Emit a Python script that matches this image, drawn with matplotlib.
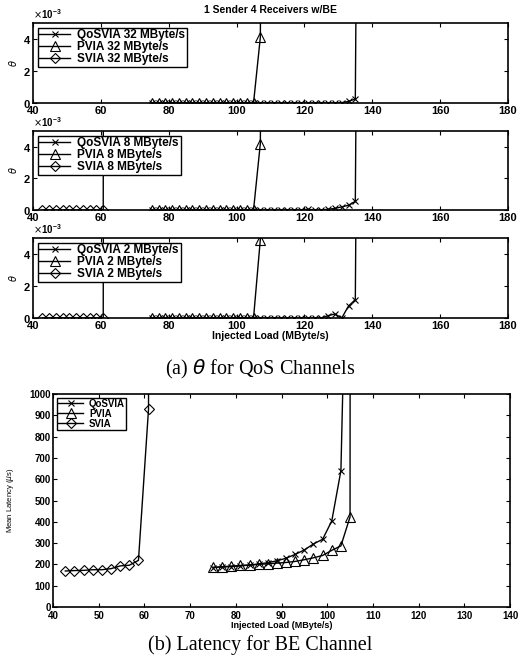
import matplotlib
matplotlib.use("Agg")
import matplotlib.pyplot as plt
from matplotlib.ticker import ScalarFormatter

plt.rcParams['font.family'] = ['Liberation Sans', 'DejaVu Sans']

# ---- theta data (values in units of 1e-3 read off the picture, then scaled) ----
# off-chart points (saturated) are given a large value so the line leaves the plot
qos_load = [75, 77, 79, 81, 83, 85, 87, 89, 91, 93, 95, 97, 99, 101, 103, 105,
            107, 109, 111, 113, 115, 117, 119, 121, 123, 125, 127, 129, 131, 133, 135, 137]
qos_32 = [0, 0, 0, 0, 0, 0, 0, 0, 0, 0, 0, 0, 0, 0, 0, 0,
          0, 0, 0, 0, 0, 0, 0, 0, 0, 0, 0, 0, 0.02, 0.1, 0.25, 60]
qos_8 = [0, 0, 0, 0, 0, 0, 0, 0, 0, 0, 0, 0, 0, 0, 0, 0,
         0, 0, 0, 0, 0, 0, 0, 0.05, 0, 0, 0.05, 0.1, 0.2, 0.3, 0.55, 60]
qos_2 = [0, 0, 0, 0, 0, 0, 0, 0, 0, 0, 0, 0, 0, 0, 0, 0,
         0, 0, 0, 0, 0, 0, 0, 0, 0, 0, 0.15, 0.25, 0.0, 0.75, 1.15, 60]

pvia_load = [75, 77, 79, 81, 83, 85, 87, 89, 91, 93, 95, 97, 99, 101, 103, 105, 107, 109]
pvia_32 = [0, 0, 0, 0, 0, 0, 0, 0, 0, 0, 0, 0, 0, 0, 0, 0, 4.1, 60]
pvia_8 = [0, 0, 0, 0, 0, 0, 0, 0, 0, 0, 0, 0, 0, 0, 0, 0, 4.2, 60]
pvia_2 = [0, 0, 0, 0, 0, 0, 0, 0, 0, 0, 0, 0, 0, 0, 0, 0, 4.9, 60]

svia_load = [42.7, 44.7, 46.7, 48.7, 50.7, 52.7, 54.7, 56.7, 58.7, 60.7, 61.0]
svia_32 = []
svia_8 = [0, 0, 0, 0, 0, 0, 0, 0, 0, 0, 60]
svia_2 = [0, 0, 0, 0, 0, 0, 0, 0, 0, 0, 60]

rates = ['32', '8', '2']
theta_qos = [qos_32, qos_8, qos_2]
theta_pvia = [pvia_32, pvia_8, pvia_2]
theta_svia = [svia_32, svia_8, svia_2]

# ---- latency data (us) ----
lat_qos_load = [75, 77, 79, 81, 83, 85, 87, 89, 91, 93, 95, 97, 99, 101, 103, 105]
lat_qos = [185, 188, 190, 193, 197, 202, 208, 217, 229, 247, 268, 296, 318, 404, 640, 2500]
lat_pvia_load = [75, 77, 79, 81, 83, 85, 87, 89, 91, 93, 95, 97, 99, 101, 103, 105, 105.1]
lat_pvia = [186, 189, 192, 195, 197, 200, 203, 206, 209, 214, 222, 231, 242, 266, 287, 423, 5000]
lat_svia_load = [42.7, 44.7, 46.7, 48.7, 50.7, 52.7, 54.7, 56.7, 58.7, 60.9, 61.3]
lat_svia = [169, 171, 172, 175, 175, 180, 193, 196, 219, 928, 5000]

W, H = 520, 664
fig = plt.figure(figsize=(W / 100, H / 100), dpi=100)


def box(l, t, r, b):
    return [l / W, 1 - b / H, (r - l) / W, (b - t) / H]


def matlab_style(ax, size):
    ax.tick_params(direction='in', top=True, right=True, length=3, width=0.8,
                   labelsize=size, pad=1.5)
    for lab in ax.get_xticklabels() + ax.get_yticklabels():
        lab.set_fontweight('bold')
    for s in ax.spines.values():
        s.set_linewidth(1.2)


def boxed_legend(ax, size, pad, spacing):
    leg = ax.legend(loc='upper left', prop={'weight': 'bold', 'size': size},
                    frameon=True, fancybox=False, borderpad=pad, labelspacing=spacing,
                    handlelength=2.6, handletextpad=0.6, borderaxespad=0.4)
    leg.get_frame().set_edgecolor('black')
    leg.get_frame().set_linewidth(1.0)
    leg.get_frame().set_alpha(1)


mk = dict(color='black', lw=1.0, fillstyle='none', mew=0.8)
panels = [(23, 103), (131, 210), (238, 318)]
for i, (t, b) in enumerate(panels):
    ax = fig.add_axes(box(33, t, 508, b))
    ax.plot(qos_load, [v * 1e-3 for v in theta_qos[i]], marker='x', ms=5,
            label='QoSVIA %s MByte/s' % rates[i], **mk)
    ax.plot(pvia_load, [v * 1e-3 for v in theta_pvia[i]], marker='^', ms=7,
            label='PVIA %s MByte/s' % rates[i], **mk)
    ax.plot(svia_load[:len(theta_svia[i])], [v * 1e-3 for v in theta_svia[i]],
            marker='D', ms=5, label='SVIA %s MByte/s' % rates[i], **mk)
    ax.set_xlim(40, 180)
    ax.set_ylim(0, 5e-3)
    ax.set_xticks(range(40, 181, 20))
    ax.set_yticks([0, 2e-3, 4e-3])
    fmt = ScalarFormatter(useMathText=True)
    fmt.set_powerlimits((-3, -3))
    ax.yaxis.set_major_formatter(fmt)
    ax.yaxis.get_offset_text().set_fontsize(7)
    ax.yaxis.get_offset_text().set_fontweight('bold')
    ax.set_ylabel(r'$\theta$', fontsize=7, labelpad=3)
    matlab_style(ax, 8)
    ax.tick_params(axis='x', pad=2)
    boxed_legend(ax, 8.5, 0.15, 0.0)
    if i == 0:
        ax.set_title('1 Sender 4 Receivers w/BE', fontsize=7.5, fontweight='bold', pad=7)
    if i == 2:
        ax.set_xlabel('Injected Load (MByte/s)', fontsize=7.5, fontweight='bold', labelpad=0)

fig.text(0.5, 1 - 369 / H, r'(a) $\theta$ for QoS Channels', ha='center', va='center',
         fontsize=14.5, family='Liberation Serif')

# ---- latency panel ----
ax = fig.add_axes(box(53, 394, 510, 607))
ax.plot(lat_qos_load, lat_qos, marker='x', ms=4, label='QoSVIA', **mk)
ax.plot(lat_pvia_load, lat_pvia, marker='^', ms=7, label='PVIA', **mk)
ax.plot(lat_svia_load, lat_svia, marker='D', ms=5, label='SVIA', **mk)
ax.set_xlim(40, 140)
ax.set_ylim(0, 1000)
ax.set_xticks(range(40, 141, 10))
ax.set_yticks(range(0, 1001, 100))
ax.set_ylabel(r'Mean Latency ($\mu$s)', fontsize=5.5, labelpad=10)
ax.set_xlabel('Injected Load (MByte/s)', fontsize=6.5, fontweight='bold', labelpad=0)
matlab_style(ax, 7)
ax.tick_params(axis='x', pad=3)
boxed_legend(ax, 7, 0.1, 0.0)

fig.text(0.5, 1 - 645 / H, '(b) Latency for BE Channel', ha='center', va='center',
         fontsize=14.5, family='Liberation Serif')

fig.savefig('out.png', dpi=100)
